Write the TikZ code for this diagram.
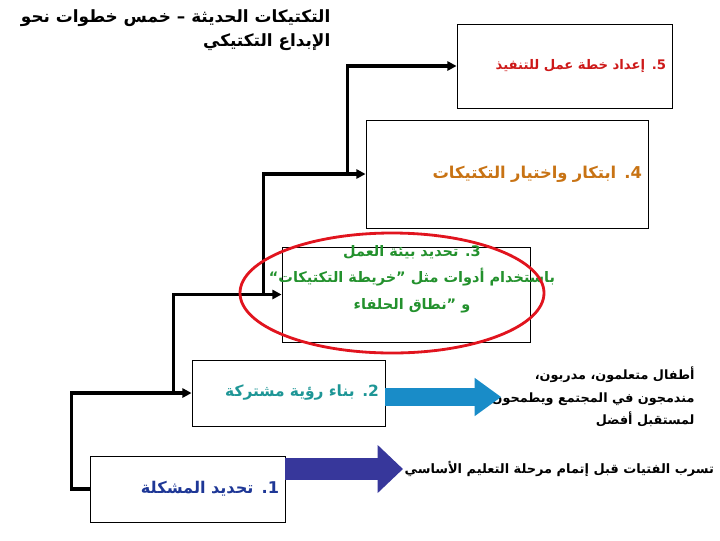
\documentclass[tikz,border=0pt]{standalone}
\usepackage{fontspec}
\newfontfamily\arabicfont[Script=Arabic]{DejaVu Sans}
\TeXXeTstate=1
\usepackage{tikz}
\usetikzlibrary{positioning, arrows.meta, calc}
\usepackage{xcolor}
\definecolor{stepone}{RGB}{30,55,150}
\definecolor{steptwo}{RGB}{30,150,150}
\definecolor{stepthree}{RGB}{35,145,45}
\definecolor{stepfour}{RGB}{200,115,20}
\definecolor{stepfive}{RGB}{205,25,25}
\definecolor{arrowone}{RGB}{55,55,155}
\definecolor{arrowtwo}{RGB}{25,140,200}
\definecolor{ringred}{RGB}{225,20,30}

\begin{document}
\begin{tikzpicture}[x=0.025cm, y=-0.025cm, font=\arabicfont\bfseries]

\tikzstyle{block} = [
    rectangle,
    draw,
    line width=0.6pt,
    align=right,
    inner xsep=0.15cm,
    inner ysep=0pt
];
\tikzstyle{link} = [line width=2.6pt, -{Triangle[length=6.5pt, width=6.5pt]}];
\tikzstyle{fat} = [line width=15pt, -{Triangle[length=18pt, width=33pt]}];
\tikzstyle{plain} = [align=right, inner sep=1pt];

\useasboundingbox (0,0) rectangle (720,540);

\node[plain, anchor=north east, font=\arabicfont\bfseries\fontsize{12}{17}\selectfont] (title) at (332,8)
    {\beginR التكتيكات الحديثة – خمس خطوات نحو\endR\\ \beginR الإبداع التكتيكي\endR};

\node[block, minimum width=4.875cm, minimum height=1.65cm, text width=4.575cm,
      text=stepone, font=\arabicfont\bfseries\fontsize{11.5}{14}\selectfont] (problem) at (187.5,489)
    {\beginR 1. تحديد المشكلة\endR};
\node[block, minimum width=4.825cm, minimum height=1.65cm, text width=4.525cm,
      text=steptwo, font=\arabicfont\bfseries\fontsize{11}{14}\selectfont] (vision) at (288.5,393)
    {\beginR 2. بناء رؤية مشتركة\endR};
\node[block, minimum width=6.2cm, minimum height=2.375cm] (context) at (406,294.5) {};
\node[plain, align=center, text=stepthree, font=\arabicfont\bfseries\fontsize{10.3}{19}\selectfont] (contexttext) at (412,279)
    {\beginR 3. تحديد بيئة العمل\endR\\
     \beginR باستخدام أدوات مثل ”خريطة التكتيكات“\endR\\
     \beginR و ”نطاق الحلفاء\endR};
\node[block, minimum width=7.05cm, minimum height=2.7cm, text width=6.75cm,
      text=stepfour, font=\arabicfont\bfseries\fontsize{11.6}{14}\selectfont] (tactics) at (507,174)
    {\beginR 4. ابتكار واختيار التكتيكات\endR};
\node[block, minimum width=5.375cm, minimum height=2.1cm, text width=5.075cm,
      text=stepfive, font=\arabicfont\bfseries\fontsize{9.4}{14}\selectfont] (plan) at (564.5,66)
    {\beginR 5. إعداد خطة عمل للتنفيذ\endR};

\node[plain, anchor=west, font=\arabicfont\bfseries\fontsize{9.2}{14}\selectfont] (dropout) at (403,469)
    {\beginR تسرب الفتيات قبل إتمام مرحلة التعليم الأساسي\endR};
\node[plain, anchor=west, font=\arabicfont\bfseries\fontsize{9.1}{16}\selectfont] (learners) at (490,397)
    {\beginR أطفال متعلمون، مدربون،\endR\\
     \beginR مندمجون في المجتمع ويطمحون\endR\\
     \beginR لمستقبل أفضل\endR};

\draw[link] (problem.west) -- ++(-18,0) |- (vision.west);
\coordinate (k2) at ($(vision.west)+(-18,0)$);
\draw[link] (k2) |- (context.west);
\coordinate (k3) at ($(context.west)+(-18,0)$);
\draw[link] (k3) |- (tactics.west);
\coordinate (k4) at ($(tactics.west)+(-18,0)$);
\draw[link] (k4) |- (plan.west);

\draw[fat, arrowone] (problem.east |- dropout.west) -- (dropout.west);
\draw[fat, arrowtwo, line width=13pt, -{Triangle[length=19pt, width=26pt]}, shorten >=-8pt]
    (vision.east |- learners.west) -- (learners.west);

\draw[ringred, line width=2pt] (392,293) ellipse [x radius=152, y radius=60];

\end{tikzpicture}
\end{document}
